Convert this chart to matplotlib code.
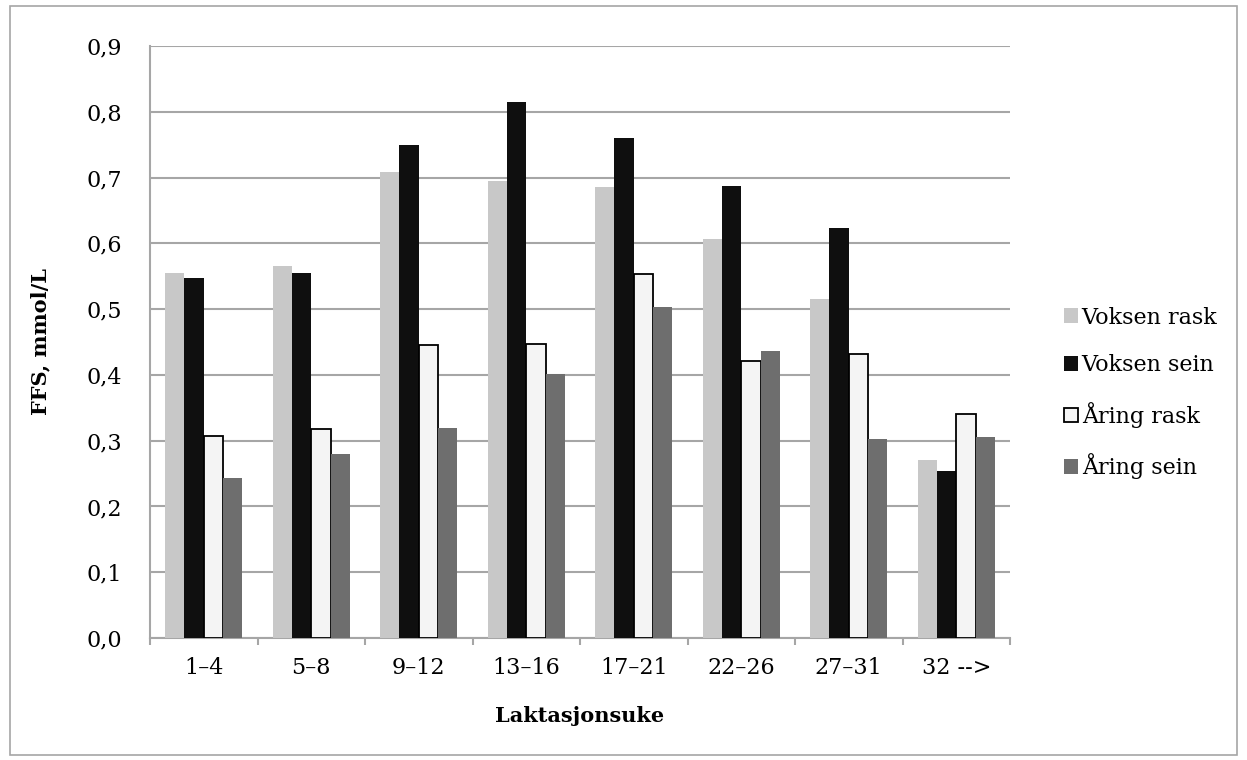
import matplotlib
matplotlib.use('Agg')
import matplotlib.pyplot as plt
import numpy as np
from matplotlib.patches import Rectangle

plt.rcParams['font.family'] = ['DejaVu Serif']

# Data
weeks = ['1–4', '5–8', '9–12', '13–16', '17–21', '22–26', '27–31', '32 -->']
voksen_rask = [0.555, 0.566, 0.709, 0.695, 0.685, 0.606, 0.516, 0.270]
voksen_sein = [0.547, 0.555, 0.749, 0.815, 0.760, 0.687, 0.623, 0.254]
aaring_rask = [0.307, 0.317, 0.446, 0.447, 0.553, 0.421, 0.431, 0.340]
aaring_sein = [0.243, 0.280, 0.320, 0.402, 0.503, 0.436, 0.302, 0.305]
series_names = ['Voksen rask', 'Voksen sein', 'Åring rask', 'Åring sein']

gridcolour = "#a6a6a6"
fig = plt.figure(figsize=(12.47, 7.6), dpi=100)
ax = fig.add_axes([150/1247, 1-638/760, 860/1247, 592/760])

# Outer frame round the whole chart
fig.patches.append(Rectangle((10/1247, 5/760), 1227/1247, 749/760, transform=fig.transFigure,
                             fill=False, edgecolor=gridcolour, linewidth=1.2))

x = np.arange(len(weeks))
w = 0.18
offsets = [-1.5*w, -0.5*w, 0.5*w, 1.5*w]
styles = [
    dict(color='#c8c8c8'),
    dict(color='#0f0f0f'),
    dict(color='#f4f4f4', edgecolor='#000000', linewidth=1.3),
    dict(color='#6e6e6e'),
]
for vals, off, st, name in zip([voksen_rask, voksen_sein, aaring_rask, aaring_sein],
                               offsets, styles, series_names):
    ax.bar(x + off, vals, w, label=name, zorder=3, **st)

ax.set_xlim(-0.5, len(weeks) - 0.5)
ax.set_ylim(0, 0.9)
ax.set_yticks(np.arange(0, 0.91, 0.1))
ax.set_yticklabels([f"{v:.1f}".replace('.', ',') for v in np.arange(0, 0.91, 0.1)])
ax.set_xticks(x)
ax.set_xticklabels(weeks)
ax.set_xticks(np.arange(-0.5, len(weeks), 1), minor=True)

ax.yaxis.grid(True, color=gridcolour, linewidth=1.5, zorder=0)
ax.set_axisbelow(True)
for s in ['top', 'right']:
    ax.spines[s].set_visible(False)
for s in ['left', 'bottom']:
    ax.spines[s].set_color(gridcolour)
    ax.spines[s].set_linewidth(1.5)

ax.tick_params(axis='y', length=0, labelsize=16, pad=20)
ax.tick_params(axis='x', which='major', length=0, labelsize=16, pad=14)
ax.tick_params(axis='x', which='minor', length=5, color=gridcolour, width=1.5)

ax.set_xlabel('Laktasjonsuke', fontsize=15, fontweight='bold')
ax.set_ylabel('FFS, mmol/L', fontsize=15, fontweight='bold')
ax.xaxis.set_label_coords(0.5, -(706 - 638) / 592)
ax.yaxis.set_label_coords(-(150 - 50) / 860, 0.5)

ax.legend(loc='center left', bbox_to_anchor=(1055/1247, 1 - 393/760), bbox_transform=fig.transFigure,
          frameon=False, fontsize=16, handlelength=0.65, handleheight=0.65,
          handletextpad=0.15, labelspacing=1.15, borderaxespad=0)

fig.savefig('out.png', dpi=100)
